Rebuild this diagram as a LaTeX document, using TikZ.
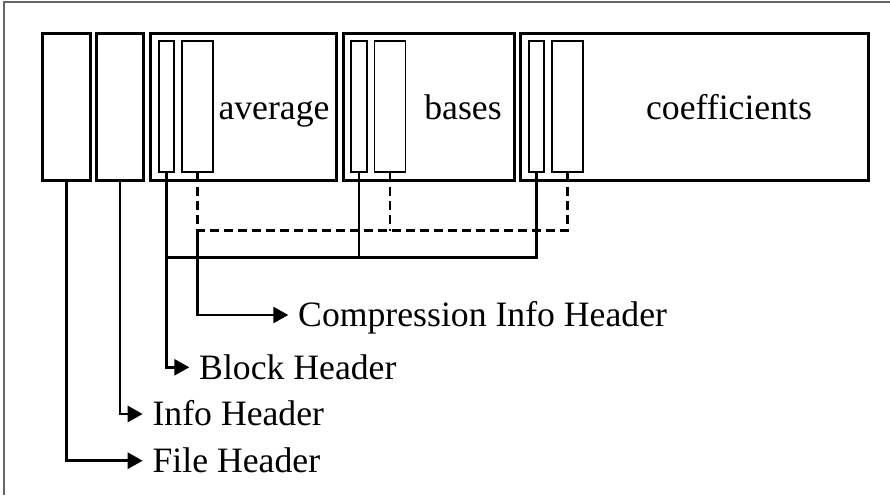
\documentclass[tikz,border=0pt]{standalone}
\usepackage{fontspec}
\setmainfont{Liberation Serif}
\usetikzlibrary{arrows.meta}

\begin{document}
\begin{tikzpicture}[x=1pt,y=-1pt,
    blk/.style={draw,line width=3pt,inner sep=0pt,minimum height=146.7pt},
    sub/.style={draw,line width=1.8pt,inner sep=0pt,minimum height=131pt},
    bh/.style={sub,minimum width=15.5pt},
    ci/.style={sub,minimum width=31pt},
    conn/.style={line width=2.6pt},
    dsh/.style={conn,dash pattern=on 9pt off 5pt},
    tip/.style={conn,-{Triangle[length=15pt,width=16pt]}},
    lbl/.style={anchor=west,inner xsep=9.7pt,inner ysep=0pt,text height=23.4pt,text depth=0pt},
    every node/.style={font=\fontsize{35.7}{42}\selectfont}]
  \useasboundingbox (0,0) rectangle (890,495);
  \draw[black!60,line width=1.3pt] (4,495) -- (4,2) -- (890,2);

  % file layout
  \node[blk,minimum width=47.6pt] (filehdr) at (66.5,106.7) {};
  \node[blk,minimum width=46.6pt] (infohdr) at (120,106.7) {};
  \node[blk,minimum width=186pt] (avgblk) at (243.7,106.7) {};
  \node[blk,minimum width=170.7pt] (basesblk) at (428.7,106.7) {};
  \node[blk,minimum width=347.6pt] (coefblk) at (694.5,106.7) {};

  \node[bh] (avgbh) at (166.5,106.8) {};
  \node[ci] (avgci) at (197.2,106.8) {};
  \node[bh] (basesbh) at (359,106.8) {};
  \node[ci] (basesci) at (390,106.8) {};
  \node[bh] (coefbh) at (536.5,106.8) {};
  \node[ci] (coefci) at (567.2,106.8) {};

  \node[anchor=base] (avgtxt) at (274,119.5) {average};
  \node[anchor=base] (basestxt) at (463,119.5) {bases};
  \node[anchor=base] (coeftxt) at (729,119.5) {coefficients};

  % header labels
  \node[lbl] (cilbl) at (288.3,315) {Compression Info Header};
  \node[lbl] (blocklbl) at (189.3,367.3) {Block Header};
  \node[lbl] (infolbl) at (142.7,414) {Info Header};
  \node[lbl] (filelbl) at (142.7,460.7) {File Header};

  \coordinate (bhbus) at (avgbh.south |- 0,257.3);
  \coordinate (cibus) at (avgci.south |- 0,230.7);

  \draw[dsh] (coefci.south) |- (cibus);
  \draw[dsh] (basesci.south) -- (basesci.south |- cibus);
  \draw[dsh] (avgci.south) -- (cibus);
  \draw[conn] (coefbh.south) |- (bhbus);
  \draw[conn] (basesbh.south) -- (basesbh.south |- bhbus);

  \draw[tip] (cibus) |- (cilbl.west);
  \draw[tip] (avgbh.south) |- (blocklbl.west);
  \draw[tip] (infohdr.south) |- (infolbl.west);
  \draw[tip] (filehdr.south) |- (filelbl.west);
\end{tikzpicture}
\end{document}
